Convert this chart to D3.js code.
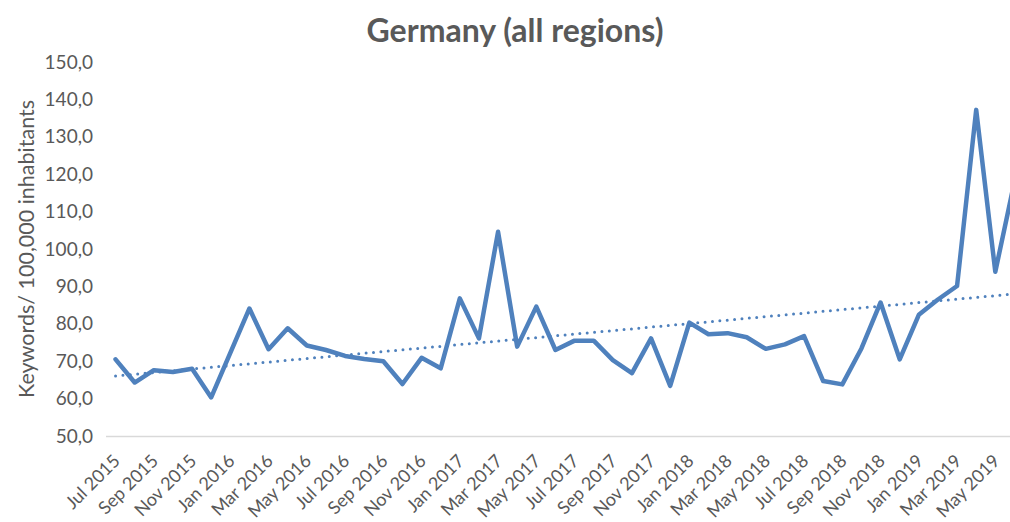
<!DOCTYPE html>
<html>
<head>
<meta charset="utf-8">
<script src="https://cdn.jsdelivr.net/npm/d3@7/dist/d3.min.js"></script>
<style>
  html, body { margin: 0; padding: 0; background: #ffffff; }
  svg { display: block; }
  text { font-family: Lato, "Liberation Sans", sans-serif; fill: #595959; }
</style>
</head>
<body>
<svg id="chart" width="1010" height="522"></svg>
<script>
// ---- data ----
const months = [
  "Jul 2015","Aug 2015","Sep 2015","Oct 2015","Nov 2015","Dec 2015",
  "Jan 2016","Feb 2016","Mar 2016","Apr 2016","May 2016","Jun 2016",
  "Jul 2016","Aug 2016","Sep 2016","Oct 2016","Nov 2016","Dec 2016",
  "Jan 2017","Feb 2017","Mar 2017","Apr 2017","May 2017","Jun 2017",
  "Jul 2017","Aug 2017","Sep 2017","Oct 2017","Nov 2017","Dec 2017",
  "Jan 2018","Feb 2018","Mar 2018","Apr 2018","May 2018","Jun 2018",
  "Jul 2018","Aug 2018","Sep 2018","Oct 2018","Nov 2018","Dec 2018",
  "Jan 2019","Feb 2019","Mar 2019","Apr 2019","May 2019","Jun 2019"
];
const values = [
  70.5, 64.3, 67.6, 67.1, 68.0, 60.3,
  72.2, 84.1, 73.2, 78.8, 74.2, 73.0,
  71.4, 70.6, 70.0, 63.9, 70.9, 68.1,
  86.8, 76.1, 104.6, 73.9, 84.6, 73.0,
  75.5, 75.5, 70.3, 66.8, 76.1, 63.4,
  80.3, 77.2, 77.5, 76.4, 73.3, 74.5,
  76.7, 64.7, 63.8, 73.4, 85.7, 70.5,
  82.4, 86.5, 90.1, 137.2, 93.9, 118.0
];
const tickLabels = months.filter((m, i) => i % 2 === 0);
const yTicks = [50, 60, 70, 80, 90, 100, 110, 120, 130, 140, 150];
const titleText = "Germany (all regions)";
const yTitleText = "Keywords/ 100,000 inhabitants";

// ---- layout ----
const svg = d3.select("#chart");
const plotLeft = 106, plotRight = 1024, plotTop = 62, plotBottom = 436;
const blue = "#4F81BD";
const fontStack = "Lato, 'Liberation Sans', sans-serif";

const x = d3.scalePoint().domain(months).range([plotLeft, plotRight]).padding(0.5);
const y = d3.scaleLinear().domain([50, 150]).range([plotBottom, plotTop]);

// title
svg.append("text")
  .attr("x", 515).attr("y", 42)
  .attr("text-anchor", "middle")
  .style("font-size", "32px").style("font-weight", "bold")
  .text(titleText);

// y axis title
svg.append("text")
  .attr("transform", "translate(34,249) rotate(-90)")
  .attr("text-anchor", "middle")
  .style("font-size", "21.5px")
  .text(yTitleText);

// y axis (labels only)
const fmt = d => d3.format(".1f")(d).replace(".", ",");
const yAxis = svg.append("g")
  .attr("transform", `translate(${plotLeft},0)`)
  .call(d3.axisLeft(y).tickValues(yTicks).tickFormat(fmt).tickSize(0).tickPadding(13));
yAxis.select(".domain").remove();
yAxis.selectAll("text").style("font-size", "19px").style("fill", "#595959").style("font-family", fontStack);

// x axis baseline + labels
const xAxis = svg.append("g")
  .attr("transform", `translate(0,${plotBottom})`)
  .call(d3.axisBottom(x).tickValues(tickLabels).tickSize(0).tickPadding(0));
xAxis.select(".domain")
  .attr("d", `M${plotLeft},0.5H${plotRight}`)
  .attr("stroke", "#D9D9D9").attr("stroke-width", 1.5);
xAxis.selectAll("text")
  .style("font-size", "18px").style("fill", "#595959").style("font-family", fontStack)
  .attr("text-anchor", "end")
  .attr("y", 0).attr("dy", "0")
  .attr("transform", "translate(5,26) rotate(-45)");

// data line
const line = d3.line().x((d, i) => x(months[i])).y(d => y(d));
svg.append("path")
  .datum(values)
  .attr("d", line)
  .attr("fill", "none")
  .attr("stroke", blue)
  .attr("stroke-width", 4.5)
  .attr("stroke-linejoin", "round")
  .attr("stroke-linecap", "round");

// linear trendline (least squares)
const n = values.length;
const xs = d3.range(n);
const mx = d3.mean(xs), my = d3.mean(values);
const slope = d3.sum(xs, i => (i - mx) * (values[i] - my)) / d3.sum(xs, i => (i - mx) * (i - mx));
const intercept = my - slope * mx;
const trend = [0, n - 1].map(i => ({ i, v: intercept + slope * i }));
svg.append("path")
  .datum(trend)
  .attr("d", d3.line().x(d => x(months[d.i])).y(d => y(d.v)))
  .attr("fill", "none")
  .attr("stroke", blue)
  .attr("stroke-width", 3)
  .attr("stroke-linecap", "round")
  .attr("stroke-dasharray", "0 7.4");
</script>
</body>
</html>
